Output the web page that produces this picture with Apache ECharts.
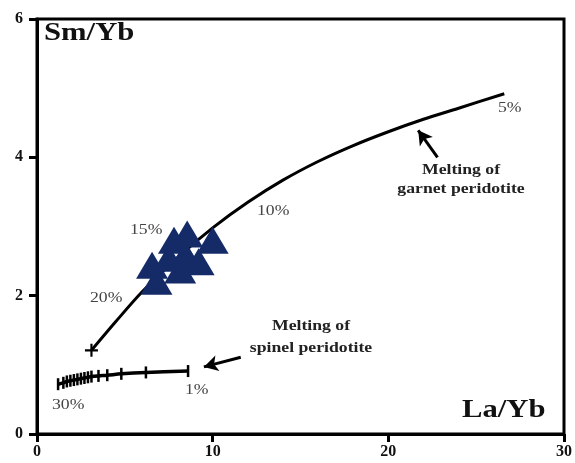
<!DOCTYPE html>
<html>
<head>
<meta charset="utf-8">
<script src="https://cdn.jsdelivr.net/npm/echarts@6/dist/echarts.min.js"></script>
<style>
html,body{margin:0;padding:0;background:#fff;}
#chart{width:575px;height:463px;}
</style>
</head>
<body>
<div id="chart"></div>
<script>
// garnet peridotite melting curve (La/Yb, Sm/Yb)
var garnetX = [3.1, 4.5, 6.0, 8.0, 10.0, 12.0, 14.0, 16.0, 18.0, 20.0, 22.0, 24.0, 26.6];
var garnetY = [1.21, 1.63, 2.06, 2.55, 2.98, 3.35, 3.67, 3.94, 4.17, 4.37, 4.55, 4.71, 4.92];
// spinel peridotite melting curve
var spinelX = [1.2, 1.5, 1.7, 1.9, 2.1, 2.3, 2.5, 2.7, 2.9, 3.1, 3.5, 4.0, 4.8, 6.2, 8.6];
var spinelY = [0.72, 0.74, 0.76, 0.77, 0.78, 0.79, 0.80, 0.81, 0.82, 0.83, 0.84, 0.85, 0.87, 0.89, 0.91];
// samples
var sampleX = [8.55, 7.8, 10.0, 6.55, 9.2, 6.8, 8.15, 8.45, 7.5];
var sampleY = [2.89, 2.80, 2.80, 2.44, 2.49, 2.21, 2.37, 2.59, 2.54];
// annotation arrows [tailX, tailY, headX, headY]
var arrows = [[22.8, 4.0, 21.7, 4.39], [11.6, 1.11, 9.5, 0.97]];
var xTicks = [0, 10, 20, 30];
var yTicks = [0, 2, 4, 6];

var chart = echarts.init(document.getElementById('chart'));

function pairs(xs, ys) {
  return xs.map(function (x, i) { return [x, ys[i]]; });
}

var serif = '"Liberation Serif", "DejaVu Serif", serif';
var plus = 'path://M5,0h2v5h5v2h-5v5h-2v-5h-5v-2h5z';

function txt(s, x, y, size, weight, color, align) {
  return {
    type: 'text', x: x, y: y, scaleX: 1.18, z: 100,
    style: {
      text: s, x: 0, y: 0,
      font: weight + ' ' + size + 'px ' + serif,
      fill: color, textAlign: align || 'left', textVerticalAlign: 'bottom'
    }
  };
}

var option = {
  animation: false,
  backgroundColor: '#fff',
  grid: {
    left: 37, right: 8, top: 19, bottom: 29,
    show: true, borderColor: '#000', borderWidth: 3
  },
  xAxis: {
    type: 'value', min: xTicks[0], max: xTicks[xTicks.length - 1], interval: 10,
    axisLine: { lineStyle: { color: '#000', width: 3 } },
    axisTick: { length: 8, lineStyle: { color: '#000', width: 3 } },
    splitLine: { show: false },
    axisLabel: { color: '#111', fontFamily: serif, fontWeight: 'bold', fontSize: 16, margin: 10 }
  },
  yAxis: {
    type: 'value', min: yTicks[0], max: yTicks[yTicks.length - 1], interval: 2,
    axisLine: { lineStyle: { color: '#000', width: 3 } },
    axisTick: { length: 8, lineStyle: { color: '#000', width: 3 } },
    splitLine: { show: false },
    axisLabel: { color: '#111', fontFamily: serif, fontWeight: 'bold', fontSize: 16, margin: 14 }
  },
  series: [
    {
      type: 'line', data: pairs(garnetX, garnetY), smooth: 0.3,
      symbol: 'none', lineStyle: { color: '#000', width: 3 }, z: 2,
      markPoint: {
        symbol: plus, symbolSize: 13, itemStyle: { color: '#000' }, label: { show: false },
        data: [{ coord: [garnetX[0], garnetY[0]] }]
      },
      markLine: {
        silent: true, symbol: ['none', 'arrow'], symbolSize: [12, 14],
        lineStyle: { color: '#000', width: 3, type: 'solid' }, label: { show: false },
        data: arrows.map(function (a) { return [{ coord: [a[0], a[1]] }, { coord: [a[2], a[3]] }]; })
      }
    },
    {
      type: 'line', data: pairs(spinelX, spinelY), smooth: 0.3,
      symbol: 'rect', symbolSize: [2.5, 12], showAllSymbol: true,
      itemStyle: { color: '#000' },
      lineStyle: { color: '#000', width: 3.5 }, z: 2
    },
    {
      type: 'scatter', data: pairs(sampleX, sampleY),
      symbol: 'triangle', symbolSize: [32, 27],
      itemStyle: { color: '#142b68', opacity: 1 }, z: 5
    }
  ],
  graphic: [
    txt('Sm/Yb', 44, 46, 26, 'bold', '#111'),
    txt('La/Yb', 462, 423, 26, 'bold', '#111'),
    txt('Melting of', 461, 178, 15, 'bold', '#222', 'center'),
    txt('garnet peridotite', 461, 197, 15, 'bold', '#222', 'center'),
    txt('Melting of', 311, 334, 15, 'bold', '#222', 'center'),
    txt('spinel peridotite', 311, 356, 15, 'bold', '#222', 'center'),
    txt('5%', 498, 116, 15, 'normal', '#444'),
    txt('10%', 257, 219, 15, 'normal', '#444'),
    txt('15%', 130, 238, 15, 'normal', '#444'),
    txt('20%', 90, 306, 15, 'normal', '#444'),
    txt('30%', 52, 413, 15, 'normal', '#444'),
    txt('1%', 185, 398, 15, 'normal', '#444')
  ]
};
chart.setOption(option);
</script>
</body>
</html>
